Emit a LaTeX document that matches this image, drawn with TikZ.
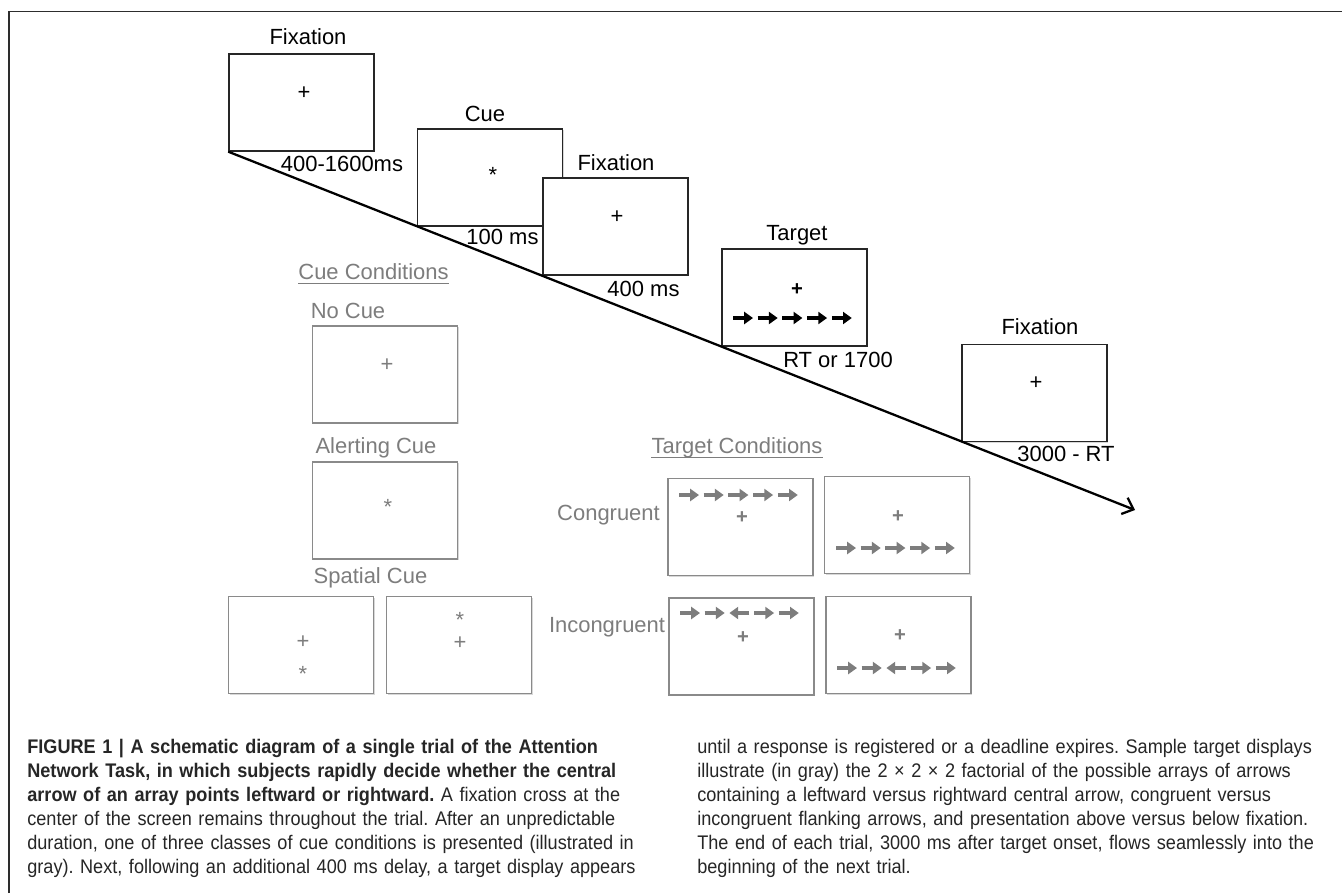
\documentclass[tikz,border=0pt]{standalone}
\usepackage{fontspec}
\setmainfont{Liberation Sans}
\newfontfamily\capfont[FakeStretch=0.92]{Liberation Sans}
\usepackage{xcolor}
\definecolor{condgray}{RGB}{125,125,125}
\definecolor{framegray}{RGB}{45,45,45}
\usetikzlibrary{arrows.meta,positioning,shadows}

% one row of five flanker arrows: x, y, colour, directions
\newcommand{\flankrow}[4]{%
  \foreach \d [count=\i from 0] in {#4}
    \draw[flank,#3] ({#1+24.7*\i+10-10*\d},#2) -- ++({20*\d},0);}

\begin{document}
\begin{tikzpicture}[x=0.02cm,y=-0.02cm,
    screen/.style={draw=black!85,fill=white,line width=0.8pt,minimum width=2.9cm,
                   minimum height=1.94cm,inner sep=0pt,
                   drop shadow={shadow xshift=0.7pt,shadow yshift=-0.7pt,opacity=0.3}},
    gscreen/.style={screen,draw=condgray!90},
    lbl/.style={font=\fontsize{12.5}{14}\selectfont,inner sep=0pt,
                text height=9pt,text depth=0pt},
    glbl/.style={lbl,text=condgray},
    sym/.style={font=\fontsize{12.5}{14}\selectfont,inner sep=0pt},
    ast/.style={sym,yshift=-2.9pt},
    bsym/.style={font=\fontsize{11.5}{13}\selectfont\bfseries,inner sep=0pt},
    flank/.style={line width=1.8pt,-{Triangle[length=5pt,width=6.8pt]}},
    timeline/.style={line width=1.3pt,-{Straight Barb[length=5.5pt,width=10pt]}},
    uline/.style={condgray,line width=0.6pt},
    capt/.style={font=\capfont\fontsize{11.2}{13.66}\selectfont\frenchspacing,
                 text=black!85,inner sep=0pt,text width=14cm,align=left,anchor=base west}]
  \path[use as bounding box,fill=white] (0,0) rectangle (1342,893);
  \draw[framegray,line width=1.1pt] (9,893) -- (9,11.5) -- (1342,11.5);

  % Trial sequence
  \node[screen] (fix1) at (301.5,102.5) {};
  \node[screen] (cue)  at (490,177.5)   {};
  \node[screen] (fix2) at (615.5,226.5) {};
  \node[screen] (tgt)  at (794.5,297.5) {};
  \node[screen] (fix3) at (1034.5,393)  {};

  \node[lbl] (lfix1) at (308,37)   {Fixation};
  \node[lbl] (lcue)  at (485,114)  {Cue};
  \node[lbl] (lfix2) at (616,163)  {Fixation};
  \node[lbl] (ltgt)  at (797,233)  {Target};
  \node[lbl] (lfix3) at (1040,327) {Fixation};

  \node[sym] (pfix1) at (304,93)   {+};
  \node[ast] (acue)  at (493,170)  {*};
  \node[sym] (pfix2) at (617,217)  {+};
  \node[bsym] (ptgt) at (797,290)  {+};
  \node[sym] (pfix3) at (1036,383) {+};
  \flankrow{733}{318}{black}{1,1,1,1,1}

  \coordinate (tlend) at (1135,510);
  \draw[timeline] (fix1.south west) -- (tlend);

  \node[lbl] (t1) at (342,164)   {400-1600ms};
  \node[lbl] (t2) at (502.5,237) {100 ms};
  \node[lbl] (t3) at (643.5,289) {400 ms};
  \node[lbl] (t4) at (838,360)   {RT or 1700};
  \node[lbl] (t5) at (1066,454)  {3000 - RT};

  % Cue conditions
  \node[glbl] (cuecond) at (373.5,272) {Cue Conditions};
  \draw[uline] ([yshift=-1.7pt]cuecond.south west) -- ([yshift=-1.7pt]cuecond.south east);
  \node[glbl] (lnocue) at (348,311)   {No Cue};
  \node[glbl] (lalert) at (376,446)   {Alerting Cue};
  \node[glbl] (lspat)  at (370.5,576) {Spatial Cue};
  \node[gscreen] (nocue) at (385,374.5) {};
  \node[gscreen] (alert) at (385,510.5) {};
  \node[gscreen] (spat1) at (301,645)   {};
  \node[gscreen] (spat2) at (459,645)   {};
  \node[sym,text=condgray] (pnocue) at (387,365) {+};
  \node[ast,text=condgray] (aalert) at (388,502) {*};
  \node[sym,text=condgray] (pspat1) at (303,642) {+};
  \node[ast,text=condgray] (aspat1) at (303,669) {*};
  \node[ast,text=condgray] (aspat2) at (460,615) {*};
  \node[sym,text=condgray] (pspat2) at (460,643) {+};

  % Target conditions
  \node[glbl] (tgtcond) at (737,446) {Target Conditions};
  \draw[uline] ([yshift=-1.7pt]tgtcond.south west) -- ([yshift=-1.7pt]tgtcond.south east);
  \node[glbl] (lcon) at (608.5,513) {Congruent};
  \node[glbl] (linc) at (607,625)   {Incongruent};
  \node[gscreen] (con1) at (740.5,527) {};
  \node[gscreen] (con2) at (897,525)   {};
  \node[gscreen] (inc1) at (741.5,646.5) {};
  \node[gscreen] (inc2) at (898.5,645) {};
  \node[bsym,text=condgray] (pcon1) at (742,518) {+};
  \node[bsym,text=condgray] (pcon2) at (898,517) {+};
  \node[bsym,text=condgray] (pinc1) at (743,638) {+};
  \node[bsym,text=condgray] (pinc2) at (900,636) {+};
  \flankrow{679}{495}{condgray}{1,1,1,1,1}
  \flankrow{836}{548}{condgray}{1,1,1,1,1}
  \flankrow{680}{613}{condgray}{1,1,-1,1,1}
  \flankrow{837}{668}{condgray}{1,1,-1,1,1}

  % Caption
  \node[capt] (capleft) at (27,753) {\bfseries FIGURE 1 | A schematic diagram of a single trial of the Attention\\
    Network Task, in which subjects rapidly decide whether the central\\
    arrow of an array points leftward or rightward.\mdseries{} A fixation cross at the\\
    center of the screen remains throughout the trial. After an unpredictable\\
    duration, one of three classes of cue conditions is presented (illustrated in\\
    gray). Next, following an additional 400 ms delay, a target display appears};
  \node[capt] (capright) at (697,753) {until a response is registered or a deadline expires. Sample target displays\\
    illustrate (in gray) the 2 × 2 × 2 factorial of the possible arrays of arrows\\
    containing a leftward versus rightward central arrow, congruent versus\\
    incongruent flanking arrows, and presentation above versus below fixation.\\
    The end of each trial, 3000 ms after target onset, flows seamlessly into the\\
    beginning of the next trial.};
\end{tikzpicture}
\end{document}
